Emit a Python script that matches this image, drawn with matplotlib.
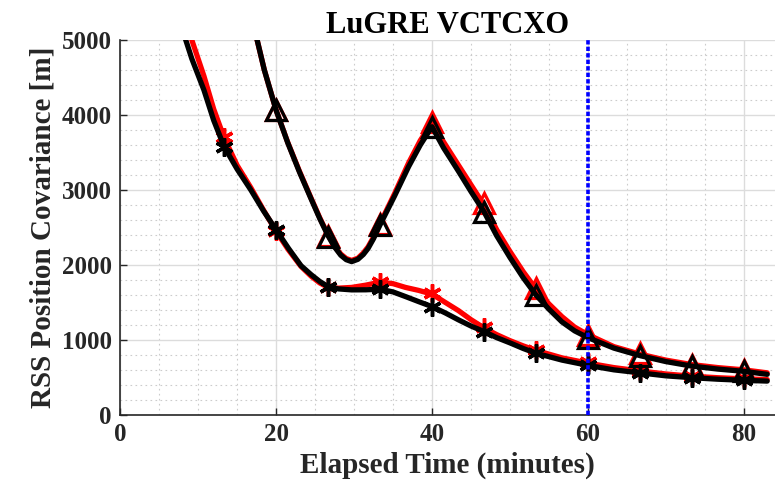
import matplotlib.pyplot as plt
from matplotlib.ticker import MultipleLocator

plt.rcParams['font.family'] = ['Liberation Serif', 'DejaVu Serif']
plt.rcParams['font.weight'] = 'bold'

# line samples (minutes)
t_ast = [7.8, 9.2, 10.75, 12, 13.33, 15, 16.77, 18.4, 20, 21.6, 23.2, 24.5, 25.6,
         26.67, 28, 29.7, 31.5, 33.33, 35, 36.6, 38.3, 40, 41.7, 43.4, 45,
         46.67, 48.3, 50, 51.7, 53.33, 56.67, 60, 63.33, 66.67, 70, 73.33, 76.67, 80, 83]
ast_black = [5200, 4750, 4333, 3930, 3580, 3280, 3000, 2720, 2470, 2220, 1990, 1870, 1780,
             1711, 1680, 1667, 1668, 1676, 1640, 1578, 1510, 1444, 1360, 1267, 1185,
             1111, 1030, 960, 885, 822, 730, 660, 600, 560, 520, 495, 475, 460, 450]
ast_red = [5700, 5000, 4520, 4080, 3700, 3330, 3030, 2730, 2450, 2200, 1980, 1850, 1760,
           1700, 1690, 1700, 1730, 1770, 1750, 1700, 1660, 1610, 1500, 1390, 1270,
           1160, 1070, 990, 920, 860, 760, 690, 630, 585, 545, 515, 495, 480, 470]

t_tri = [17.0, 18.5, 20, 21.5, 23, 24.5, 25.6, 26.67, 27.5, 28.3, 29, 29.7, 30.5,
         31.2, 31.8, 32.5, 33.33, 35.2, 37.0, 38.5, 40, 41.5, 43.4, 45, 46.67,
         48.3, 50, 51.7, 53.33, 55, 56.67, 58.3, 60, 63.33, 66.67, 70, 73.33, 76.67, 80, 83]
tri_black = [5250, 4600, 4067, 3630, 3240, 2880, 2620, 2390, 2240, 2130, 2070, 2044, 2075,
             2140, 2220, 2350, 2533, 2920, 3311, 3600, 3844, 3560, 3250, 2980, 2711,
             2390, 2100, 1830, 1600, 1410, 1240, 1120, 1030, 890, 790, 710, 650, 610, 580, 540]
tri_red = [5250, 4600, 4067, 3635, 3250, 2890, 2630, 2400, 2250, 2145, 2085, 2060, 2090,
           2160, 2240, 2370, 2550, 2950, 3360, 3660, 3900, 3640, 3330, 3070, 2800,
           2470, 2180, 1910, 1680, 1480, 1310, 1170, 1070, 910, 810, 730, 670, 630, 600, 560]

# marker epochs
t_mark = [13.33, 20, 26.67, 33.33, 40, 46.67, 53.33, 60, 66.67, 73.33, 80]
mark_ast_black = [3573, 2467, 1711, 1676, 1444, 1111, 822, 660, 560, 495, 460]
mark_ast_red = [3711, 2450, 1700, 1778, 1622, 1178, 860, 700, 590, 520, 485]
t_mark_tri = [20, 26.67, 33.33, 40, 46.67, 53.33, 60, 66.67, 73.33, 80]
mark_tri_black = [4067, 2370, 2533, 3844, 2711, 1600, 1030, 790, 650, 580]
mark_tri_red = [4067, 2380, 2550, 3911, 2822, 1689, 1060, 820, 670, 600]

t_cut = 60

fig = plt.figure(figsize=(7.75, 4.95), dpi=100)
ax = fig.add_axes([0.155, 0.162, 0.845, 0.757])

lw = 3.8
style = dict(lw=lw, solid_joinstyle='round', solid_capstyle='round')
ax.plot(t_tri, tri_red, color='red', zorder=3, **style)
ax.plot(t_ast, ast_red, color='red', zorder=3, **style)
ax.plot(t_mark_tri, mark_tri_red, ls='none', marker='^', ms=15, mfc='none',
        mec='red', mew=2.3, zorder=4)
ax.plot(t_mark, mark_ast_red, ls='none', marker=(6, 2, 0), ms=13,
        mec='red', mew=2.5, zorder=4)

ax.plot(t_tri, tri_black, color='black', zorder=5, **style)
ax.plot(t_ast, ast_black, color='black', zorder=5, **style)
ax.plot(t_mark_tri, mark_tri_black, ls='none', marker='^', ms=15, mfc='none',
        mec='black', mew=2.3, zorder=6)
ax.plot(t_mark, mark_ast_black, ls='none', marker=(6, 2, 0), ms=13,
        mec='black', mew=2.5, zorder=6)

ax.axvline(t_cut, color='blue', lw=2.6, ls=(0, (1.2, 0.6)), zorder=7)

ax.set_xlim(0, 84)
ax.set_ylim(0, 5000)
ax.xaxis.set_major_locator(MultipleLocator(20))
ax.xaxis.set_minor_locator(MultipleLocator(5))
ax.yaxis.set_major_locator(MultipleLocator(1000))
ax.yaxis.set_minor_locator(MultipleLocator(200))
ax.grid(which='major', color='#dcdcdc', lw=1.0, ls='-')
ax.grid(which='minor', color='#cccccc', lw=0.8, ls=(0, (1.5, 3)))
ax.set_axisbelow(True)
ax.tick_params(which='major', direction='in', length=5, width=1, colors='#262626',
               labelsize=18, pad=6)
ax.tick_params(which='minor', length=0)
for s in ['top', 'right']:
    ax.spines[s].set_visible(False)
for s in ['left', 'bottom']:
    ax.spines[s].set_color('#262626')
    ax.spines[s].set_linewidth(1.2)

ax.set_xlabel('Elapsed Time (minutes)', fontsize=21, fontweight='bold',
              color='#262626', labelpad=4)
ax.set_ylabel('RSS Position Covariance [m]', fontsize=21, fontweight='bold',
              color='#262626', labelpad=4)
ax.set_title('LuGRE VCTCXO', fontsize=22, fontweight='bold', pad=5)

fig.savefig('out.png', dpi=100)
